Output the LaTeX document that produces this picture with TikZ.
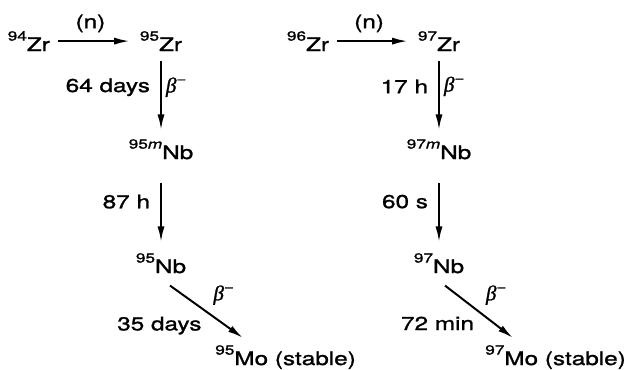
\documentclass[tikz,border=0pt]{standalone}
\usepackage{fontspec}
\setmainfont{TeX Gyre Heros}[FakeStretch=1.3, FakeBold=1.3]
\newfontfamily\grkfont{Liberation Serif}[FakeBold=1.2]
\usetikzlibrary{arrows.meta}

\newcommand{\nuc}[2]{\raisebox{7.4pt}{\fontsize{9.4}{10}\selectfont #1}#2}
\newcommand{\betam}{{\grkfont\itshape\fontsize{15}{16}\selectfont β}\raisebox{6.5pt}{\fontsize{9.4}{10}\selectfont −}}

\begin{document}
\begin{tikzpicture}[
  font=\fontsize{13.3}{16}\selectfont,
  iso/.style={anchor=base, inner sep=0pt},
  arr/.style={-{Latex[length=11pt,width=5pt]}, line width=1.4pt},
  lbl/.style={inner sep=0pt}
]

  \useasboundingbox (0,0) rectangle (15.875,-9.225);

  % --- catena 95 ---
  \node[iso] (zr94)  at (0.72,-1.275)  {\nuc{94}{Zr}};
  \node[iso] (zr95)  at (4.025,-1.275) {\nuc{95}{Zr}};
  \node[iso] (nb95m) at (4.025,-3.975) {\nuc{95\textit{m}}{Nb}};
  \node[iso] (nb95)  at (4.025,-6.825) {\nuc{95}{Nb}};
  \node[iso, anchor=base west] (mo95) at (5.375,-9.125) {\nuc{95}{Mo} (stable)};

  % --- catena 97 ---
  \node[iso] (zr96)  at (7.7,-1.275)    {\nuc{96}{Zr}};
  \node[iso] (zr97)  at (10.975,-1.275) {\nuc{97}{Zr}};
  \node[iso] (nb97m) at (10.975,-3.975) {\nuc{97\textit{m}}{Nb}};
  \node[iso] (nb97)  at (10.975,-6.825) {\nuc{97}{Nb}};
  \node[iso, anchor=base west] (mo97) at (12.125,-9.125) {\nuc{97}{Mo} (stable)};

  % --- cattura (n) ---
  \draw[arr, shorten <=0.2cm, shorten >=0.25cm] (zr94) -- (zr95)
    node[lbl, pos=0.45, above=0.2cm] {(n)};
  \draw[arr, shorten <=0.2cm, shorten >=0.25cm] (zr96) -- (zr97)
    node[lbl, pos=0.45, above=0.2cm] {(n)};

  % --- decadimenti verticali ---
  \draw[arr, shorten <=0.25cm, shorten >=0.225cm] (zr95) -- (nb95m)
    node[lbl, pos=0.41, left=0.25cm] {64 days}
    node[lbl, pos=0.41, right=0.1cm] {\betam};
  \draw[arr, shorten <=0.575cm, shorten >=0.275cm] (nb95m) -- (nb95)
    node[lbl, pos=0.45, left=0.25cm] {87 h};

  \draw[arr, shorten <=0.25cm, shorten >=0.225cm] (zr97) -- (nb97m)
    node[lbl, pos=0.4, left=0.25cm] {17 h}
    node[lbl, pos=0.4, right=0.1cm] {\betam};
  \draw[arr, shorten <=0.575cm, shorten >=0.275cm] (nb97m) -- (nb97)
    node[lbl, pos=0.45, left=0.25cm] {60 s};

  % --- verso Mo stabile ---
  \draw[arr] ([shift={(0.225,-0.3)}]nb95.south) -- ([shift={(0.7,0.175)}]mo95.north west)
    node[lbl, midway, above right=0.15cm] {\betam}
    node[lbl, midway, below left=0.1cm] {35 days};
  \draw[arr] ([shift={(0.15,-0.3)}]nb97.south) -- ([shift={(0.7,0.175)}]mo97.north west)
    node[lbl, midway, above right=0.15cm] {\betam}
    node[lbl, midway, below left=0.1cm] {72 min};

\end{tikzpicture}
\end{document}
